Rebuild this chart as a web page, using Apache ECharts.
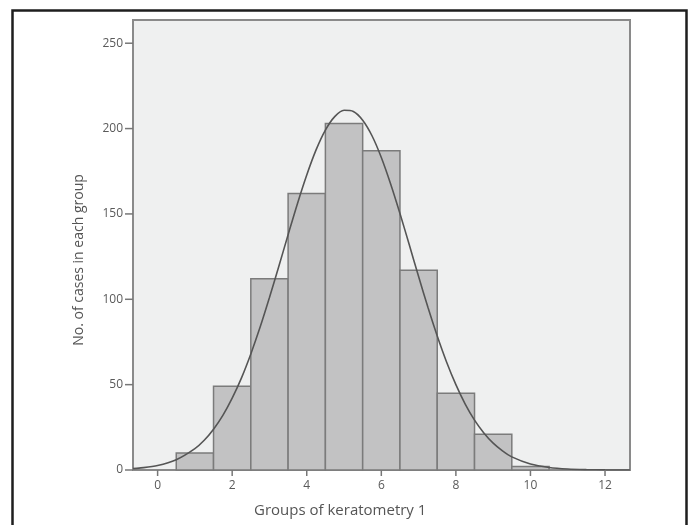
<!DOCTYPE html>
<html>
<head>
<meta charset="utf-8">
<script src="https://cdn.jsdelivr.net/npm/echarts@6/dist/echarts.min.js"></script>
<style>
html,body{margin:0;padding:0;background:#fff;}
#chart{width:691px;height:525px;}
</style>
</head>
<body>
<div id="chart"></div>
<script>
// Histogram bins (group centres) and counts
var groups = [1, 2, 3, 4, 5, 6, 7, 8, 9, 10];
var counts = [10, 49, 112, 162, 203, 187, 117, 45, 21, 2];

// Normal curve overlay
var curveX = [-0.66, -0.5, 0, 0.5, 1, 1.25, 1.5, 1.75, 2, 2.25, 2.5, 2.75, 3, 3.25, 3.5, 3.75, 4, 4.25, 4.5, 4.75, 5, 5.25, 5.5, 5.75, 6, 6.25, 6.5, 6.75, 7, 7.25, 7.5, 7.75, 8, 8.25, 8.5, 8.75, 9, 9.25, 9.5, 10, 10.5, 11, 11.5, 12, 12.5, 12.67];
var curveY = [0.8, 1.1, 2.6, 6.0, 12.5, 17.4, 23.9, 32.0, 42.1, 54.0, 68.0, 83.7, 101.0, 119.2, 137.8, 156.0, 172.8, 187.5, 199.1, 207.0, 210.7, 210.0, 204.9, 195.8, 183.1, 167.6, 150.3, 131.9, 113.3, 95.3, 78.5, 63.3, 50.0, 38.6, 29.2, 21.7, 15.7, 11.2, 7.7, 3.5, 1.5, 0.56, 0.2, 0.06, 0.02, 0.01];

// Tick labels
var xTicks = [0, 2, 4, 6, 8, 10, 12];
var yTicks = [0, 50, 100, 150, 200, 250];

var xTitle = 'Groups of keratometry 1';
var yTitle = 'No. of cases in each group';

var chart = echarts.init(document.getElementById('chart'), null, {renderer: 'canvas'});

var barData = groups.map(function (g, i) { return [g, counts[i]]; });
var curveData = curveX.map(function (x, i) { return [x, curveY[i]]; });
var X_MIN = -0.66, Y_MIN = 0;
var tickData = xTicks.map(function (v) { return [v, Y_MIN, 0]; })
  .concat(yTicks.map(function (v) { return [X_MIN, v, 1]; }));

var FONT = '"Open Sans", "Noto Sans", sans-serif';

chart.setOption({
  animation: false,
  backgroundColor: '#ffffff',
  grid: {
    left: 133, right: 61, top: 20, bottom: 55,
    show: true,
    backgroundColor: '#eff0f0',
    borderColor: '#8a8a8a',
    borderWidth: 2
  },
  xAxis: {
    type: 'value',
    min: X_MIN, max: 12.67,
    axisLine: {show: false},
    splitLine: {show: false},
    axisTick: {show: false},
    axisLabel: {customValues: xTicks, color: '#5a5a5a', fontSize: 12, fontFamily: FONT, margin: 10}
  },
  yAxis: {
    type: 'value',
    min: Y_MIN, max: 263.6,
    axisLine: {show: false},
    splitLine: {show: false},
    axisTick: {show: false},
    axisLabel: {customValues: yTicks, color: '#5a5a5a', fontSize: 12, fontFamily: FONT, margin: 10}
  },
  series: [
    {
      type: 'custom',
      data: barData,
      z: 2,
      renderItem: function (params, api) {
        var x = api.value(0), y = api.value(1);
        var p0 = api.coord([x - 0.5, 0]);
        var p1 = api.coord([x + 0.5, y]);
        return {
          type: 'rect',
          shape: {x: p0[0], y: p1[1], width: p1[0] - p0[0], height: p0[1] - p1[1]},
          style: {fill: '#c2c2c3', stroke: '#7b7b7b', lineWidth: 1.5}
        };
      }
    },
    {
      type: 'line',
      data: curveData,
      smooth: 0.3,
      showSymbol: false,
      z: 3,
      lineStyle: {color: '#555555', width: 1.6}
    },
    {
      type: 'custom',
      data: tickData,
      clip: false,
      silent: true,
      z: 4,
      renderItem: function (params, api) {
        var p = api.coord([api.value(0), api.value(1)]);
        var isY = api.value(2) === 1;
        var shape = isY
          ? {x1: p[0] - 8, y1: p[1], x2: p[0], y2: p[1]}
          : {x1: p[0], y1: p[1], x2: p[0], y2: p[1] + 6};
        return {type: 'line', shape: shape, style: {stroke: '#777', lineWidth: 1.5}};
      }
    }
  ],
  graphic: [
    {
      type: 'text',
      left: 254, top: 503,
      style: {text: xTitle, fill: '#555', font: '15px ' + FONT}
    },
    {
      type: 'text',
      x: 79, y: 260,
      rotation: Math.PI / 2,
      style: {text: yTitle, fill: '#555', font: '14px ' + FONT, align: 'center', verticalAlign: 'middle'}
    },
    {
      type: 'polyline',
      shape: {points: [[12.5, 530], [12.5, 10.5], [686.5, 10.5], [686.5, 530]]},
      style: {stroke: '#1e1e1e', lineWidth: 2.5, fill: null}
    }
  ]
});
</script>
</body>
</html>
